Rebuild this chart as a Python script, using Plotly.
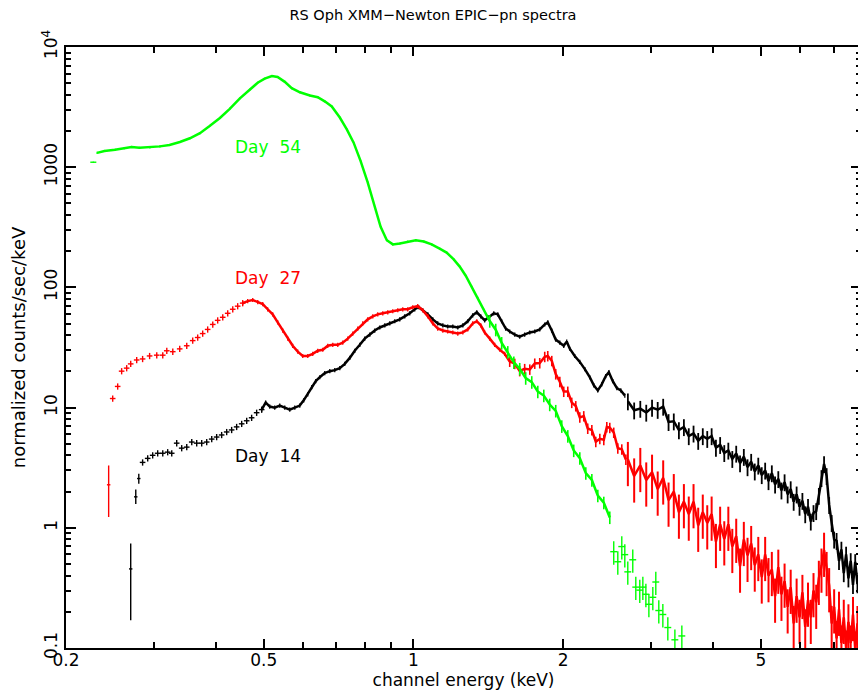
import math
import plotly.graph_objects as go

# ---------- Day 54 (green) ----------
d54_first_e = [0.227]
d54_first_v = [1100]

d54_main_e = [0.231, 0.239, 0.251, 0.262, 0.271, 0.281, 0.295, 0.309, 0.323, 0.339,
              0.355, 0.372, 0.389, 0.408, 0.427, 0.447, 0.469, 0.486, 0.502, 0.519,
              0.533, 0.551, 0.569, 0.591, 0.619, 0.642, 0.663, 0.685, 0.711, 0.734,
              0.758, 0.783, 0.809, 0.836, 0.859, 0.884, 0.909, 0.939, 0.974, 1.011,
              1.049, 1.088, 1.129, 1.166, 1.205, 1.239, 1.274, 1.310, 1.347, 1.385, 1.424]
d54_main_v = [1315, 1365, 1395, 1440, 1475, 1450, 1460, 1490, 1530, 1620,
              1740, 1920, 2200, 2570, 3060, 3720, 4430, 5040, 5450, 5740,
              5630, 5130, 4550, 4200, 3950, 3820, 3530, 3200, 2590, 2070,
              1600, 1124, 748, 467, 319, 247, 228, 232, 241, 247,
              241, 228, 210, 195, 171, 149, 125, 101, 82, 65, 52.5]

d54_fall_e = [1.424, 1.464, 1.505, 1.548, 1.592, 1.636, 1.682, 1.730, 1.779, 1.829,
              1.880, 1.933, 1.988, 2.044, 2.101, 2.161, 2.222, 2.285, 2.349, 2.415, 2.483]
d54_fall_v = [52.5, 44.5, 34.5, 29.0, 23.8, 21.0, 17.6, 16.3, 13.6, 12.6,
              10.6, 9.4, 7.0, 5.8, 4.4, 3.8, 2.85, 2.5, 1.85, 1.62, 1.22]

d54_tail_e = [2.529, 2.577, 2.625, 2.662, 2.699, 2.762, 2.801, 2.853, 2.894, 2.935,
              2.976, 3.031, 3.073, 3.116, 3.175, 3.249, 3.357, 3.467]
d54_tail_v = [0.633, 0.522, 0.698, 0.598, 0.43, 0.542, 0.321, 0.303, 0.321, 0.28,
              0.231, 0.264, 0.354, 0.205, 0.19, 0.148, 0.117, 0.126]

# ---------- Day 27 (red) ----------
d27_low_e = [0.2437]
d27_low_v = [2.28]
d27_low_hi = [1.02]
d27_low_lo = [1.05]

d27_sparse_e = [0.2483, 0.2541, 0.2588, 0.2649, 0.2699, 0.2775, 0.2852, 0.2946, 0.3045, 0.3131,
                0.3190, 0.3280, 0.3387, 0.3499, 0.3597, 0.3681, 0.3767, 0.3855, 0.3947, 0.4038,
                0.4134, 0.4230, 0.4330, 0.4430, 0.4534]
d27_sparse_v = [11.9, 15.0, 20.1, 21.3, 23.1, 24.9, 25.4, 26.9, 27.3, 27.3,
                29.7, 29.2, 30.8, 32.7, 36.1, 38.3, 41.3, 44.7, 49.2, 53.2,
                56.4, 60.9, 65.8, 69.8, 74.0]

d27_main_e = [0.4534, 0.464, 0.475, 0.4862, 0.4975, 0.509, 0.521, 0.5333, 0.5458, 0.5586,
              0.5716, 0.5851, 0.5988, 0.6129, 0.6272, 0.6419, 0.6571, 0.6724, 0.6882, 0.7043,
              0.7207, 0.7376, 0.7549, 0.7726, 0.7907, 0.8092, 0.8283, 0.8476, 0.8675, 0.8878,
              0.9085, 0.9299, 0.9517, 0.9739, 0.9968, 1.020, 1.044, 1.069, 1.094, 1.119,
              1.146, 1.172, 1.200, 1.228, 1.257, 1.286, 1.316, 1.341, 1.366, 1.391,
              1.424, 1.457, 1.492, 1.526, 1.562]
d27_main_v = [74.0, 76.9, 78.6, 75.4, 72.6, 65.8, 59.7, 51.2, 43.8, 37.5,
              32.7, 29.2, 26.9, 26.9, 28.0, 29.7, 30.3, 32.7, 33.3, 33.3,
              34.7, 37.5, 41.3, 45.5, 50.2, 54.2, 57.4, 59.7, 60.9, 62.1,
              63.4, 64.6, 65.8, 65.8, 68.4, 69.8, 64.6, 57.4, 50.2, 45.5,
              43.8, 43.0, 42.2, 41.3, 42.2, 44.7, 50.2, 52.3, 48.4, 42.2,
              37.5, 33.3, 30.3, 28.0, 24.2]

d27_mid_e = [1.562, 1.599, 1.636, 1.674, 1.714, 1.754, 1.795, 1.837, 1.863, 1.898,
             1.933, 1.970, 2.006, 2.044, 2.082, 2.121, 2.161, 2.201, 2.242, 2.285,
             2.327, 2.371, 2.415, 2.449, 2.483, 2.529, 2.577, 2.625, 2.675]
d27_mid_v = [24.2, 23.2, 20.2, 21.0, 20.8, 23.3, 23.5, 26.5, 26.9, 24.5,
             19.0, 16.4, 13.6, 13.6, 11.0, 10.3, 8.3, 8.5, 6.7, 6.5,
             5.2, 5.5, 5.4, 6.9, 6.8, 6.2, 4.6, 4.5, 3.7]

d27_tail_e = [2.70, 2.78, 2.86, 2.94, 3.02, 3.10, 3.18, 3.26, 3.34, 3.42,
              3.50, 3.58, 3.66, 3.74, 3.82, 3.90, 3.98, 4.06, 4.14, 4.22,
              4.30, 4.38, 4.46, 4.54, 4.62, 4.70, 4.78, 4.86, 4.94, 5.02,
              5.10, 5.18, 5.26, 5.34, 5.42, 5.50, 5.58, 5.66, 5.74, 5.82,
              5.90, 5.98, 6.06, 6.14, 6.22, 6.30, 6.38, 6.46, 6.54, 6.62,
              6.70, 6.78, 6.86, 6.94, 7.02, 7.10, 7.18, 7.26, 7.34, 7.42,
              7.50, 7.58, 7.66, 7.74, 7.82, 7.90]
d27_tail_v = [3.7, 2.7, 3.3, 2.5, 2.9, 2.1, 2.6, 1.7, 2.0, 1.35,
              1.65, 1.3, 1.65, 1.05, 1.35, 1.1, 1.3, 0.77, 1.07, 0.81,
              1.07, 0.70, 0.85, 0.48, 0.80, 0.59, 0.74, 0.49, 0.60, 0.39,
              0.60, 0.40, 0.45, 0.27, 0.47, 0.28, 0.36, 0.22, 0.32, 0.16,
              0.27, 0.18, 0.29, 0.15, 0.25, 0.18, 0.30, 0.24, 0.38, 0.48,
              0.65, 0.45, 0.33, 0.16, 0.22, 0.12, 0.21, 0.11, 0.18, 0.10,
              0.165, 0.11, 0.19, 0.098, 0.16, 0.12]

# ---------- Day 14 (black) ----------
d14_low_e = [0.2699, 0.2763, 0.2802]
d14_low_v = [0.455, 1.81, 2.57]
d14_low_hi = [0.285, 0.27, 0.25]
d14_low_lo = [0.285, 0.23, 0.25]

d14_sparse_e = [0.2852, 0.2920, 0.2988, 0.3058, 0.3131, 0.3203, 0.3264, 0.3340, 0.3418, 0.3499,
                0.3581, 0.3664, 0.3750, 0.3838, 0.3928, 0.4019, 0.4113, 0.4210, 0.4308, 0.4409,
                0.4513, 0.4619, 0.4726, 0.4837, 0.4951]
d14_sparse_v = [3.50, 3.78, 4.01, 4.17, 4.17, 4.26, 4.17, 5.06, 4.60, 4.69,
                5.17, 5.06, 5.06, 5.17, 5.47, 5.69, 5.92, 6.27, 6.52, 6.91,
                7.33, 7.77, 8.23, 9.07, 9.62]

d14_main_e = [0.4951, 0.5044, 0.514, 0.5259, 0.5383, 0.5509, 0.5639, 0.5772, 0.5906, 0.6015,
              0.6129, 0.6244, 0.6361, 0.648, 0.6631, 0.6787, 0.6946, 0.7109, 0.7275, 0.7446,
              0.7619, 0.78, 0.798, 0.817, 0.8358, 0.8556, 0.8757, 0.8961, 0.917, 0.9385,
              0.9605, 0.983, 1.006, 1.025, 1.044, 1.069, 1.094, 1.119, 1.146, 1.172,
              1.200, 1.228, 1.257, 1.286, 1.316, 1.341, 1.366, 1.391, 1.418, 1.451,
              1.478, 1.505, 1.533, 1.562, 1.599, 1.636, 1.674, 1.714, 1.754, 1.795,
              1.837, 1.863, 1.898, 1.933, 1.970, 2.006, 2.034, 2.063, 2.111, 2.161,
              2.212, 2.263, 2.306, 2.349, 2.392, 2.437, 2.472, 2.518, 2.566, 2.613, 2.662]
d14_main_v = [9.62, 11.0, 10.2, 10.0, 10.4, 10.0, 9.62, 10.0, 10.4, 11.5,
              12.9, 14.8, 16.6, 17.9, 19.4, 20.1, 20.5, 21.3, 23.1, 25.9,
              29.7, 33.3, 37.5, 40.5, 43.8, 46.4, 48.3, 50.2, 52.3, 54.2,
              57.4, 60.9, 65.8, 68.4, 64.6, 59.7, 54.2, 50.2, 48.3, 47.3,
              47.3, 46.4, 48.3, 52.3, 58.6, 62.1, 57.4, 53.2, 56.4, 60.9,
              59.7, 52.3, 45.5, 43.0, 40.5, 38.9, 40.5, 42.2, 43.0, 44.7,
              49.2, 51.2, 43.8, 36.8, 34.7, 32.7, 35.4, 30.9, 26.9, 24.0,
              20.9, 17.9, 15.3, 13.9, 15.6, 18.3, 19.7, 16.6, 14.5, 13.9, 12.6]

d14_tail_e = d27_tail_e
d14_tail_v = [11.3, 9.5, 9.8, 9.1, 10.0, 9.6, 10.2, 7.6, 7.7, 6.5,
              6.9, 5.8, 6.1, 5.3, 5.8, 5.5, 5.8, 4.65, 4.9, 4.2,
              4.4, 3.75, 4.15, 3.45, 3.9, 3.2, 3.55, 2.95, 3.3, 2.75,
              3.0, 2.45, 2.85, 2.3, 2.55, 2.05, 2.4, 1.9, 2.1, 1.65,
              1.9, 1.5, 1.68, 1.3, 1.5, 1.13, 1.33, 1.38, 1.85, 2.6,
              3.4, 2.7, 1.55, 1.1, 0.8, 0.78, 0.53, 0.66, 0.42, 0.6,
              0.38, 0.53, 0.335, 0.52, 0.34, 0.45]

labels = ["Day\u00a0 54", "Day\u00a0 27", "Day\u00a0 14"]
label_e = [0.433, 0.433, 0.433]
label_v = [1475, 120, 3.94]
colors = ["#00ff00", "#ff0000", "#000000"]

fig = go.Figure()


def add_cross(e, v, color, xerr, yerr_hi=None, yerr_lo=None, ypct=None):
    ey = dict(type="data", array=yerr_hi, arrayminus=yerr_lo) if yerr_hi is not None \
        else dict(type="percent", value=ypct)
    ey.update(color=color, thickness=1.4, width=0, visible=True)
    fig.add_trace(go.Scatter(
        x=e, y=v, mode="markers",
        marker=dict(size=1, color=color),
        error_x=dict(type="percent", value=xerr, color=color, thickness=1.4, width=0),
        error_y=ey, showlegend=False, hoverinfo="skip"))


def add_band(e, v, color, ypct, lw=2, et=1.3):
    fig.add_trace(go.Scatter(
        x=e, y=v, mode="lines",
        line=dict(color=color, width=lw),
        error_y=dict(type="percent", value=ypct, color=color, thickness=et, width=0),
        showlegend=False, hoverinfo="skip"))


# Day 14
add_cross(d14_low_e, d14_low_v, colors[2], 0.8, d14_low_hi, d14_low_lo)
add_cross(d14_sparse_e, d14_sparse_v, colors[2], 1.3, ypct=6)
add_band(d14_main_e, d14_main_v, colors[2], 4, lw=2.5)
add_band(d14_tail_e, d14_tail_v, colors[2], 16, lw=2.5, et=1.8)

# Day 27
add_cross(d27_low_e, d27_low_v, colors[1], 0.8, d27_low_hi, d27_low_lo)
add_cross(d27_sparse_e, d27_sparse_v, colors[1], 1.3, ypct=6)
add_band(d27_main_e, d27_main_v, colors[1], 4, lw=2.5)
add_band(d27_mid_e, d27_mid_v, colors[1], 10, lw=2.5, et=1.6)
add_band(d27_tail_e, d27_tail_v, colors[1], 40, lw=2.5, et=2)

# Day 54
add_cross(d54_first_e, d54_first_v, colors[0], 1.4, ypct=1)
add_band(d54_main_e, d54_main_v, colors[0], 2, lw=2.5)
add_band(d54_fall_e, d54_fall_v, colors[0], 12, lw=2.5, et=1.6)
add_cross(d54_tail_e, d54_tail_v, colors[0], 1.6, ypct=22)

for lab, e, v, c in zip(labels, label_e, label_v, colors):
    fig.add_annotation(x=math.log10(e), y=math.log10(v), text=lab, showarrow=False,
                       xanchor="left", yanchor="middle",
                       font=dict(size=17, color=c, family="DejaVu Sans"))

y_minor = [m * 10 ** k for k in range(-1, 4) for m in range(2, 10)]

# the page body adds an 8px margin, so the figure is 8px smaller on each axis
W, H = 858, 684
fig.update_layout(
    width=W, height=H,
    margin=dict(l=58, r=5, t=39, b=44, autoexpand=False),
    paper_bgcolor="white", plot_bgcolor="white",
    font=dict(family="DejaVu Sans", color="black", size=17),
    title=dict(text="RS Oph XMM\u2212Newton EPIC\u2212pn spectra", x=(433 - 8) / W,
               xref="container", xanchor="center",
               y=1 - 7 / H, yref="container", yanchor="middle",
               font=dict(size=14.5, family="DejaVu Sans")),
    xaxis=dict(
        type="log", range=[math.log10(0.2), math.log10(7.95)], automargin=False,
        tickvals=[0.2, 0.5, 1, 2, 5], ticktext=["0.2", "0.5", "1", "2", "5"],
        ticks="inside", ticklen=9, tickwidth=1.5, tickcolor="black",
        ticklabelstandoff=-4,
        minor=dict(tickvals=[0.3, 0.4, 0.6, 0.7, 0.8, 0.9, 3, 4, 6, 7],
                   ticks="inside", ticklen=6, tickwidth=1.5, tickcolor="black"),
        showline=True, linecolor="black", linewidth=2, mirror="allticks",
        showgrid=False, zeroline=False,
        title=dict(text="channel energy (keV)", font=dict(size=17), standoff=4),
        tickfont=dict(size=17)),
    yaxis=dict(
        type="log", range=[-1, 4], automargin=False,
        tickvals=[0.1, 1, 10, 100, 1000, 10000],
        ticktext=["0.1", "1", "10", "100", "1000", "10<sup>4</sup>"],
        tickangle=-90,
        ticks="inside", ticklen=10, tickwidth=1.5, tickcolor="black",
        minor=dict(tickvals=y_minor, ticks="inside", ticklen=5, tickwidth=1.5,
                   tickcolor="black"),
        showline=True, linecolor="black", linewidth=2, mirror="allticks",
        showgrid=False, zeroline=False,
        title=dict(text="normalized counts/sec/keV", font=dict(size=18), standoff=18),
        tickfont=dict(size=17)),
)

fig.write_html("out.html")
